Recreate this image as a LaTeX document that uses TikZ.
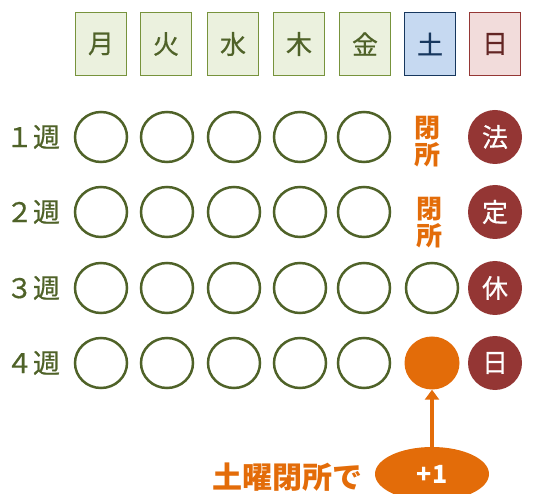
\documentclass[tikz,border=0pt]{standalone}
\usepackage{fontspec}
\setmainfont{Noto Sans CJK JP}
\newfontfamily\jpmed[FakeBold=0.6]{Noto Sans CJK JP}
\usetikzlibrary{shapes.geometric,arrows.meta}
\definecolor{grn}{HTML}{4F6228}
\definecolor{grnline}{HTML}{77933C}
\definecolor{grnfill}{HTML}{EBF1DE}
\definecolor{navy}{HTML}{17375E}
\definecolor{bluefill}{HTML}{C6D9F1}
\definecolor{akaline}{HTML}{953735}
\definecolor{akafill}{HTML}{F2DCDB}
\definecolor{akatext}{HTML}{632523}
\definecolor{kyured}{HTML}{943634}
\definecolor{orng}{HTML}{E36C09}
\begin{document}
\begin{tikzpicture}[x=1pt,y=-1pt,
  youbi/.style={draw=grnline,fill=grnfill,line width=1.4pt,minimum width=51pt,minimum height=63pt,text=grn,font=\jpmed\fontsize{26}{26}\selectfont},
  maru/.style={ellipse,draw=grn,line width=2.5pt,minimum width=52pt,minimum height=50pt},
  kyujitsu/.style={circle,fill=kyured,minimum size=54pt,text=white,font=\jpmed\fontsize{26}{26}\selectfont},
  shuu/.style={text=grn,font=\jpmed\fontsize{27}{27}\selectfont,inner sep=0pt},
  heisho/.style={text=orng,font=\bfseries\fontsize{26}{27}\selectfont,align=center,inner sep=0pt}]
  \useasboundingbox (0,0) rectangle (533,494);
  % header
  \foreach \x/\d/\n in {101/月/mon,166/火/tue,233/水/wed,299/木/thu,365/金/fri}
    \node[youbi] (\n) at (\x,44) {\d};
  \node[youbi,draw=navy,fill=bluefill,text=navy] (sat) at (430,44) {土};
  \node[youbi,draw=akaline,fill=akafill,text=akatext] (sun) at (495,44) {日};
  % weeks
  \foreach \y/\w/\num/\h in {137/1/１/法,212/2/２/定,288/3/３/休,363/4/４/日}{
    \node[shuu] (wk\w) at (33,\y) {{\num}週};
    \foreach \x/\n in {101/mon,167/tue,234/wed,300/thu,364/fri}
      \node[maru] (\n\w) at (\x,\y) {};
    \node[kyujitsu] (sun\w) at (495,\y) {\h};
  }
  \node[heisho] (sat1) at (427,142) {閉\\所};
  \node[heisho] (sat2) at (429,223) {閉\\所};
  \node[maru] (sat3) at (432,288) {};
  \node[ellipse,fill=orng,minimum width=55pt,minimum height=53pt] (sat4) at (432,363) {};
  % +1
  \node[ellipse,fill=orng,minimum width=114pt,minimum height=54pt,text=white,font=\bfseries\fontsize{25}{25}\selectfont] (plus) at (432,474) {+1};
  \node[text=orng,font=\bfseries\fontsize{30}{30}\selectfont,anchor=east,inner sep=0pt] (doyou) at (363,477) {土曜閉所で};
  \draw[orng,line width=4pt,-{Triangle[length=10pt,width=14pt]}] (plus.north) -- (sat4.south);
\end{tikzpicture}
\end{document}
